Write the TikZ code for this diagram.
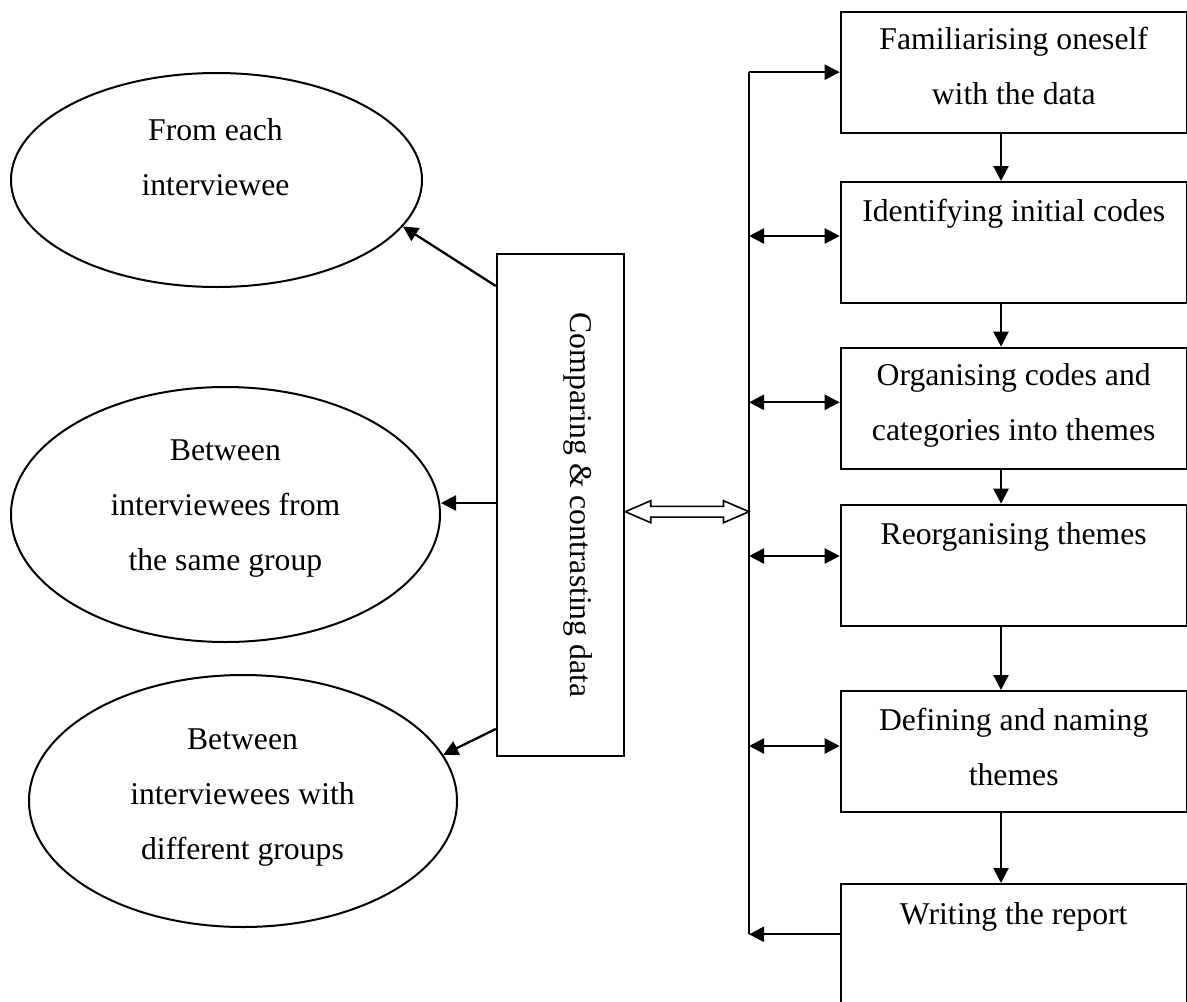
\documentclass[tikz,border=0pt]{standalone}
\usepackage{fontspec}
\setmainfont{Liberation Serif}
\usetikzlibrary{arrows.meta,shapes.geometric,calc}

\begin{document}
\begin{tikzpicture}[x=0.5pt,y=-0.5pt,
  txt/.style={font=\fontsize{15.85pt}{27.5pt}\selectfont, align=center, inner sep=0pt, anchor=base},
  stepbox/.style={draw, line width=1pt, minimum width=173pt, minimum height=60.5pt, inner sep=0pt},
  oval/.style={draw, ellipse, line width=1pt, inner sep=0pt},
  conn/.style={line width=1.15pt, -{Triangle[length=7.5pt,width=7.5pt]}},
  both/.style={line width=1.15pt, {Triangle[length=7.5pt,width=7.5pt]}-{Triangle[length=7.5pt,width=7.5pt]}},
]
\path[use as bounding box] (0,0) rectangle (1187,1001);
\fill[white] (0,0) rectangle (1187,1001);
\clip (0,0) rectangle (1187,1001);

% process steps on the right
\node[stepbox] (b1) at (1013.7,72.2) {};
\node[stepbox] (b2) at (1013.7,242.5) {};
\node[stepbox] (b3) at (1013.7,408.2) {};
\node[stepbox] (b4) at (1013.7,565.2) {};
\node[stepbox] (b5) at (1013.7,751.5) {};
\node[stepbox] (b6) at (1013.7,944.5) {};

% labels are placed by the baseline of their last line
\node[txt] (t1) at ([yshift=-47pt]b1.north) {Familiarising oneself\\with the data};
\node[txt] (t2) at ([yshift=-20.2pt]b2.north) {Identifying initial codes};
\node[txt] (t3) at ([yshift=-47pt]b3.north) {Organising codes and\\categories into themes};
\node[txt] (t4) at ([yshift=-20.2pt]b4.north) {Reorganising themes};
\node[txt] (t5) at ([yshift=-47.8pt]b5.north) {Defining and naming\\themes};
\node[txt] (t6) at ([yshift=-20.5pt]b6.north) {Writing the report};

% downward flow between the steps
\foreach \a/\b in {b1/b2,b2/b3,b3/b4,b4/b5,b5/b6}
  \draw[conn] ([xshift=-6.35pt]\a.south) -- ([xshift=-6.35pt]\b.north);

% central comparison box
\node[draw, line width=1pt, minimum width=63.75pt, minimum height=251pt, inner sep=0pt] (r) at (560.5,505) {};
\node[txt, rotate=-90] (rt) at (570,505) {Comparing \& contrasting data};

% ellipses on the left
\node[oval, minimum width=205.5pt, minimum height=107pt] (e1) at (216.5,180) {};
\node[oval, minimum width=214.5pt, minimum height=127.5pt] (e2) at (225.5,514.5) {};
\node[oval, minimum width=214pt, minimum height=126pt] (e3) at (243,801) {};

\node[txt] (et1) at (215.5,195.7) {From each\\interviewee};
\node[txt] (et2) at (225.4,570.7) {Between\\interviewees from\\the same group};
\node[txt] (et3) at (242.5,859) {Between\\interviewees with\\different groups};

\draw[conn] ([yshift=-16.5pt]r.north west) -- (e1.346);
\coordinate (q2) at ([yshift=1pt]r.west);
\draw[conn] (q2) -- (q2 -| e2.east);
\draw[conn] ([yshift=14pt]r.south west) -- (e3.13.9);

% vertical feedback spine
\coordinate (sx) at (749,0);
\coordinate (sTop) at (b1.west -| sx);
\coordinate (p6) at ([yshift=5.1pt]b6.west);
\coordinate (sBot) at (p6 -| sx);
\draw[line width=1pt] (sTop) -- (sBot);
\draw[conn] (sTop) -- (b1.west);
\draw[conn] (p6) -- (sBot);

\coordinate (p2) at ([yshift=3.25pt]b2.west);
\coordinate (p3) at ([yshift=2.95pt]b3.west);
\coordinate (p4) at ([yshift=4.6pt]b4.west);
\coordinate (p5) at ([yshift=2.75pt]b5.west);
\foreach \p in {p2,p3,p4,p5}
  \draw[both] (\p -| sx) -- (\p);

% hollow double arrow between the box and the spine
\coordinate (dl) at ($(r.east)+(0,6.7)$);
\coordinate (dr) at (dl -| sx);
\draw[line width=0.8pt, fill=white]
  (dl) -- ++(25.5,-11) -- ++(0,5.65) -- ($(dr)+(-25.5,-5.35)$) -- ++(0,-5.65)
  -- (dr) -- ++(-25.5,11) -- ++(0,-5.65) -- ($(dl)+(25.5,5.35)$) -- ++(0,5.65) -- cycle;
\end{tikzpicture}
\end{document}
